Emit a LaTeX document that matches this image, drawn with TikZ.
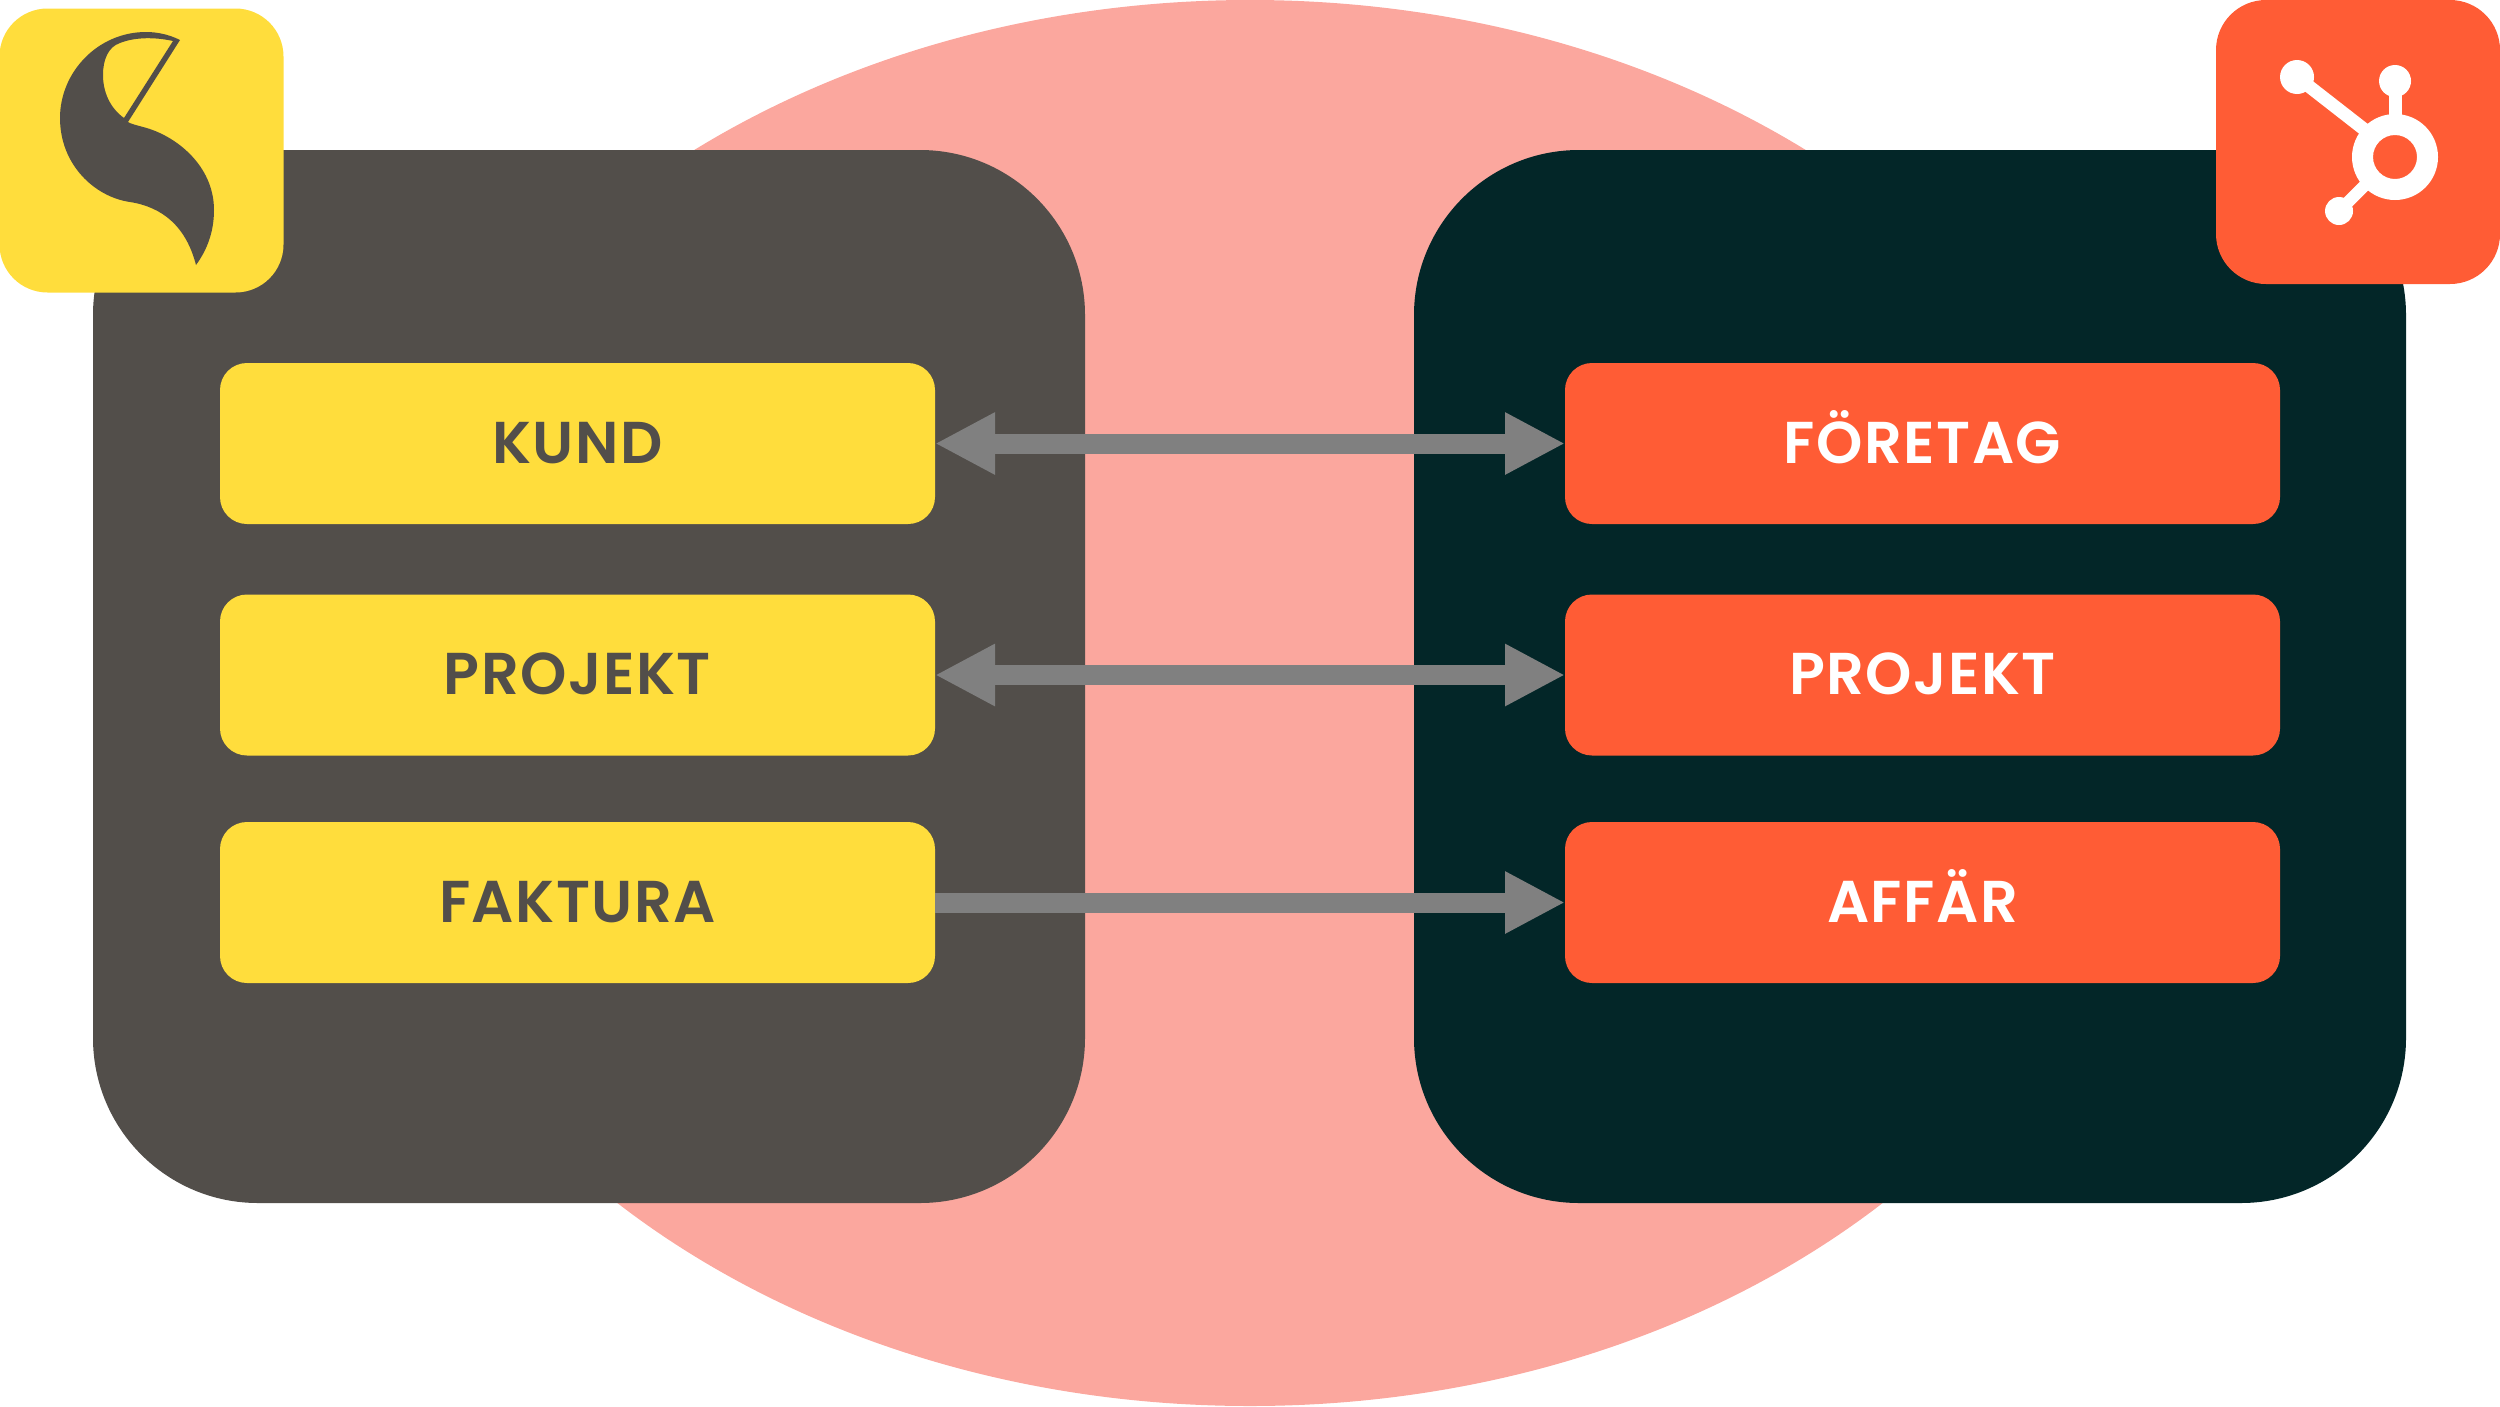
\documentclass[tikz,border=0pt]{standalone}
\usepackage{fontspec}
\setmainfont{Poppins}[BoldFont={Poppins SemiBold},LetterSpace=2.5]
\usetikzlibrary{arrows.meta,shapes.geometric}
\definecolor{syellow}{HTML}{FFDD3C}
\definecolor{sdark}{HTML}{524E4A}
\definecolor{hteal}{HTML}{032628}
\definecolor{horange}{HTML}{FF5C35}
\definecolor{bgpink}{HTML}{FBA79E}
\definecolor{arrowgray}{HTML}{808080}
\tikzset{
  panel/.style={rectangle,minimum width=992pt,minimum height=1053pt,rounded corners=165pt,inner sep=0pt,outer sep=0pt},
  itembox/.style={rectangle,minimum width=715pt,minimum height=161pt,rounded corners=27pt,inner sep=0pt,outer sep=0pt,font=\fontsize{59}{59}\selectfont\bfseries,text height=41pt,text depth=2pt},
  sbox/.style={itembox,fill=syellow,text=sdark},
  hbox/.style={itembox,fill=horange,text=white},
  logobox/.style={rectangle,minimum width=284pt,minimum height=284pt,inner sep=0pt,outer sep=0pt},
  flow/.style={arrowgray,line width=20pt,-{Triangle[length=60pt,width=58pt]}},
  flowboth/.style={arrowgray,line width=20pt,{Triangle[length=60pt,width=58pt]}-{Triangle[length=60pt,width=58pt]}},
}
\begin{document}
\begin{tikzpicture}[x=1pt,y=-1pt]
\useasboundingbox (0,0) rectangle (2500,1406);
\node[ellipse,fill=bgpink,minimum width=1800pt,minimum height=1406pt,inner sep=0pt,outer sep=0pt] (bg) at (1250,703) {};
\node[panel,fill=sdark] (left) at (589,676.5) {};
\node[panel,fill=hteal] (right) at (1910,676.5) {};
\node[sbox] (kund) at (577.5,443.5) {KUND};
\node[sbox] (sproj) at (577.5,675) {PROJEKT};
\node[sbox] (faktura) at (577.5,902.5) {FAKTURA};
\node[hbox] (foretag) at (1922.5,443.5) {FÖRETAG};
\node[hbox] (hproj) at (1922.5,675) {PROJEKT};
\node[hbox] (affar) at (1922.5,902.5) {AFFÄR};
\draw[flowboth] (kund.east) -- (foretag.west);
\draw[flowboth] (sproj.east) -- (hproj.west);
\draw[flow] (faktura.east) -- (affar.west);
% SuperOffice-like logo
\node[logobox,fill=syellow,rounded corners=48pt] (slogo) at (141.5,150.5) {};
\fill[sdark,even odd rule]
  (180,40) .. controls (168,34) and (156,32) .. (146,32)
  .. controls (98,32) and (60,72) .. (60,118)
  .. controls (60,165) and (95,197) .. (130,202)
  .. controls (162,207) and (186,226) .. (196,265)
  .. controls (207,250) and (214,232) .. (214,210)
  .. controls (214,165) and (175,135) .. (143,127)
  .. controls (136,125) and (131,124) .. (128,122)
  -- cycle
  (173,41) -- (124,118)
  .. controls (110,108) and (103,92) .. (103,75)
  .. controls (103,60) and (108,47) .. (120,43)
  .. controls (135,37) and (155,37) .. cycle;
% HubSpot logo
\node[logobox,fill=horange,rounded corners=50pt] (hlogo) at (2358,142) {};
\begin{scope}[shift={(2200,0)}]
  \fill[white,even odd rule] (195,157) circle (43) (195,157) circle (22);
  \fill[white] (97,77) circle (17) (195,81) circle (16) (139,211) circle (14);
  \draw[white,line width=13pt] (97,77) -- (165,130);
  \draw[white,line width=13pt] (195,81) -- (195,120);
  \draw[white,line width=12pt] (139,211) -- (165,185);
\end{scope}
\end{tikzpicture}
\end{document}
